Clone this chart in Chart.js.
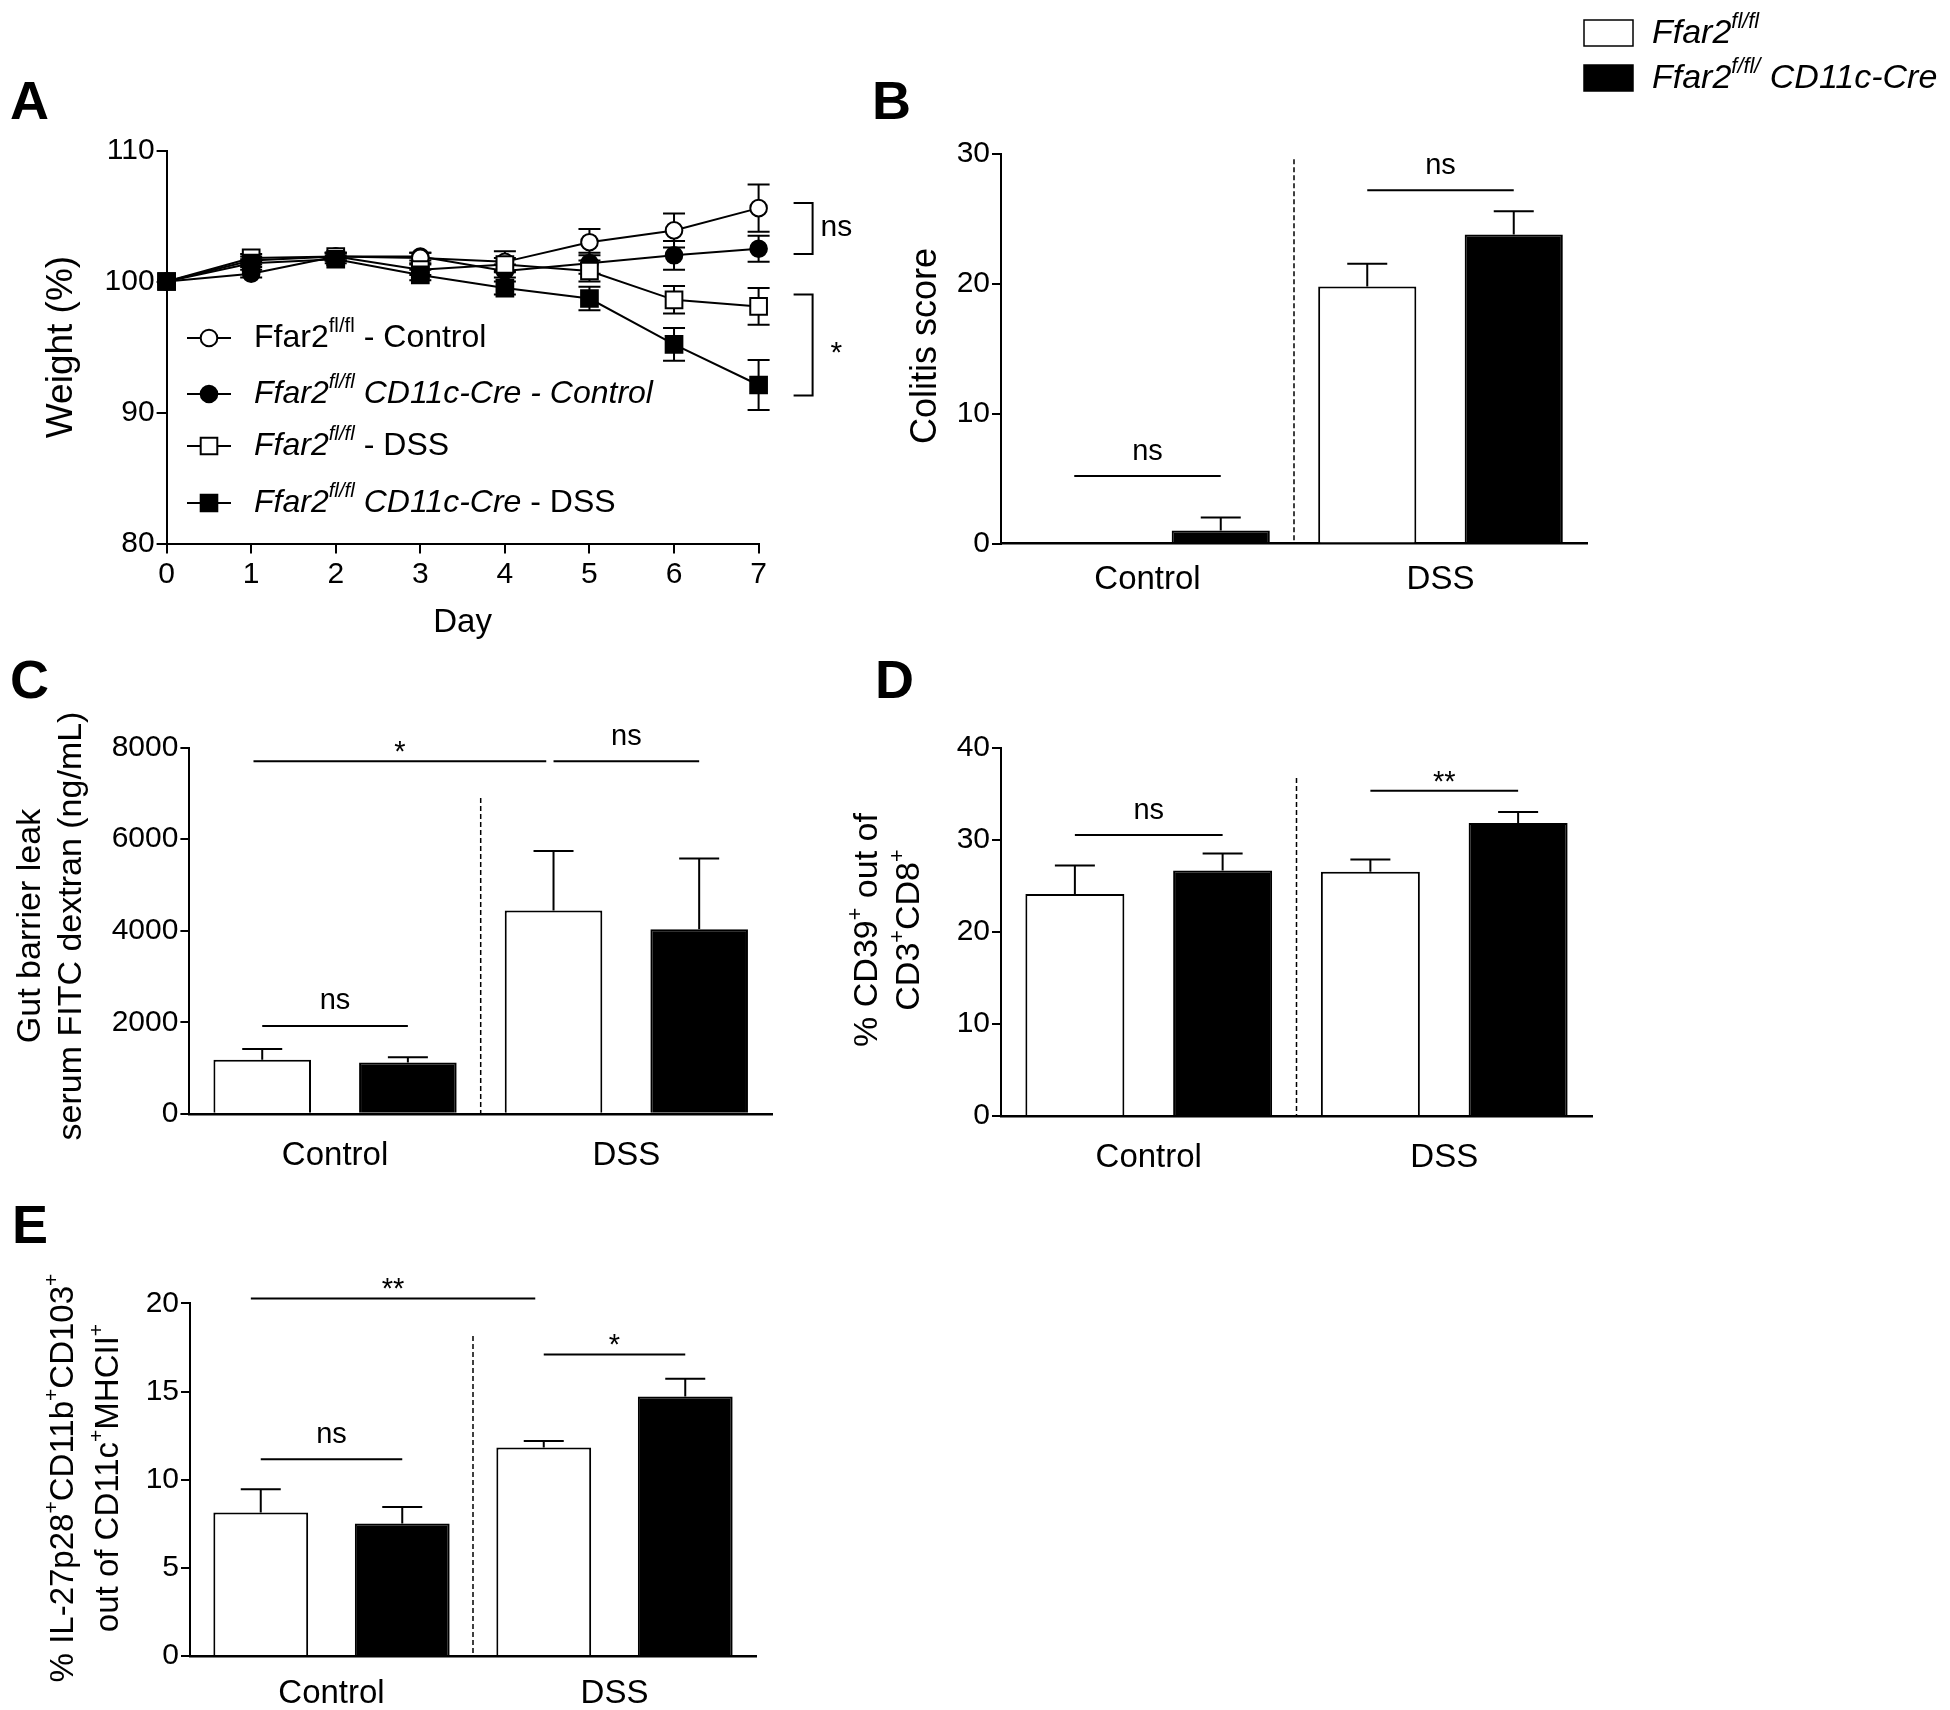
<!DOCTYPE html>
<html>
<head>
<meta charset="utf-8">
<script src="https://cdn.jsdelivr.net/npm/chart.js@4.4.1/dist/chart.umd.min.js"></script>
<style>
  body { margin: 0; background: #fff; }
  #fig { position: relative; width: 1950px; height: 1710px; background: #fff; overflow: hidden; }
  #fig canvas { position: absolute; }
</style>
</head>
<body>
<div id="fig">
  <canvas id="chartA" width="900" height="660" style="left:0;top:0"></canvas>
  <canvas id="chartB" width="1090" height="640" style="left:860px;top:0"></canvas>
  <canvas id="chartC" width="840" height="540" style="left:0;top:640px"></canvas>
  <canvas id="chartD" width="860" height="540" style="left:840px;top:640px"></canvas>
  <canvas id="chartE" width="840" height="530" style="left:0;top:1180px"></canvas>
</div>
<script>
'use strict';

const FONT = "'Liberation Sans', Arial, Helvetica, sans-serif";
Chart.defaults.font.family = FONT;
Chart.defaults.color = '#000';

// ---- panel A : weight (%) over days
const days = [0, 1, 2, 3, 4, 5, 6, 7];
const flControl = [100, 101.6, 101.9, 101.8, 101.5, 103.0, 103.9, 105.6];
const flControlErr = [0, 0.3, 0.3, 0.4, 0.8, 1.0, 1.3, 1.8];
const creControl = [100, 100.6, 101.9, 101.9, 100.8, 101.4, 102.0, 102.5];
const creControlErr = [0, 0.3, 0.3, 0.3, 0.5, 0.8, 1.1, 1.0];
const flDss = [100, 101.8, 101.9, 100.9, 101.3, 100.8, 98.6, 98.1];
const flDssErr = [0, 0.3, 0.3, 0.4, 0.5, 0.8, 1.05, 1.4];
const creDss = [100, 101.4, 101.7, 100.5, 99.5, 98.7, 95.2, 92.1];
const creDssErr = [0, 0.3, 0.3, 0.4, 0.5, 0.9, 1.25, 1.9];
const weightTicks = [80, 90, 100, 110];
// brackets at day 7: [low, high, text]
const weightSig = [[102.1, 106.0, 'ns'], [91.3, 99.0, '*']];

// legend names (rich text parts: [text, style] i=italic s=superscript)
const namesA = [
  [['Ffar2', ''], ['fl/fl', 's'], [' - Control', '']],
  [['Ffar2', 'i'], ['fl/fl', 'si'], [' CD11c-Cre - Control', 'i']],
  [['Ffar2', 'i'], ['fl/fl', 'si'], [' - DSS', '']],
  [['Ffar2', 'i'], ['fl/fl', 'si'], [' CD11c-Cre', 'i'], [' - DSS', '']]
];
const namesBar = [
  [['Ffar2', 'i'], ['fl/fl', 'si']],
  [['Ffar2', 'i'], ['f/fl/', 'si'], [' CD11c-Cre', 'i']]
];

// ---- bar panels
const groups = ['Control', 'DSS'];

// B colitis score
const colitisFl = [0, 19.8];
const colitisFlErr = [0, 1.75];
const colitisCre = [1.0, 23.8];
const colitisCreErr = [1.0, 1.8];
const colitisTicks = [0, 10, 20, 30];
const colitisSig = [[-0.25, 0.25, 5.2, 'ns'], [0.75, 1.25, 27.2, 'ns']];

// C FITC dextran
const fitcFl = [1180, 4440];
const fitcFlErr = [236, 1300];
const fitcCre = [1120, 4030];
const fitcCreErr = [115, 1545];
const fitcTicks = [0, 2000, 4000, 6000, 8000];
const fitcSig = [[-0.28, 0.725, 7700, '*'], [0.75, 1.25, 7700, 'ns'], [-0.25, 0.25, 1920, 'ns']];

// D CD39+
const cd39Fl = [24.1, 26.5];
const cd39FlErr = [3.1, 1.35];
const cd39Cre = [26.65, 31.8];
const cd39CreErr = [1.85, 1.2];
const cd39Ticks = [0, 10, 20, 30, 40];
const cd39Sig = [[-0.25, 0.25, 30.5, 'ns'], [0.75, 1.25, 35.3, '**']];

// E IL-27p28+
const il27Fl = [8.14, 11.82];
const il27FlErr = [1.32, 0.38];
const il27Cre = [7.52, 14.72];
const il27CreErr = [0.93, 1.0];
const il27Ticks = [0, 5, 10, 15, 20];
const il27Sig = [[-0.285, 0.72, 20.28, '**'], [0.75, 1.25, 17.1, '*'], [-0.25, 0.25, 11.16, 'ns']];


// draw text with italic / superscript parts
function drawRich(ctx, parts, x, y, size, align) {
  let w = 0;
  const segs = parts.map(([t, st]) => {
    const sup = st.includes('s');
    const sz = sup ? size * 0.64 : size;
    const f = (st.includes('i') ? 'italic ' : '') + (st.includes('b') ? 'bold ' : '') + sz + 'px ' + FONT;
    ctx.font = f;
    const tw = ctx.measureText(t).width;
    w += tw;
    return { t, f, tw, up: sup ? size * 0.36 : 0 };
  });
  let cx = align === 'center' ? x - w / 2 : (align === 'right' ? x - w : x);
  ctx.textAlign = 'left';
  ctx.textBaseline = 'middle';
  ctx.fillStyle = '#000';
  segs.forEach(s => {
    ctx.font = s.f;
    ctx.fillText(s.t, cx, y - s.up);
    cx += s.tw;
  });
}

function drawRotated(ctx, parts, x, y, size) {
  ctx.save();
  ctx.translate(x, y);
  ctx.rotate(-Math.PI / 2);
  drawRich(ctx, parts, 0, 0, size, 'center');
  ctx.restore();
}

function drawLetter(ctx, letter, x, y) {
  ctx.font = 'bold 54px ' + FONT;
  ctx.textAlign = 'left';
  ctx.textBaseline = 'alphabetic';
  ctx.fillStyle = '#000';
  ctx.fillText(letter, x, y);
}

function sigText(ctx, text, x, lineY, size) {
  ctx.font = size + 'px ' + FONT;
  ctx.textAlign = 'center';
  ctx.textBaseline = 'alphabetic';
  ctx.fillStyle = '#000';
  // asterisks sit high in the em box
  const base = text.includes('*') ? lineY - 17 + size * 0.58 : lineY - 24 + size * 0.26;
  ctx.fillText(text, x, base);
}

function marker(ctx, style, fill, x, y) {
  ctx.beginPath();
  if (style === 'circle') {
    ctx.arc(x, y, 8.3, 0, Math.PI * 2);
  } else {
    ctx.rect(x - 8.3, y - 8.3, 16.6, 16.6);
  }
  ctx.fillStyle = fill;
  ctx.fill();
  ctx.lineWidth = 2;
  ctx.strokeStyle = '#000';
  ctx.stroke();
}


// ---------------- panel A
const styleA = [['circle', '#fff'], ['circle', '#000'], ['rect', '#fff'], ['rect', '#000']];
const valsA = [flControl, creControl, flDss, creDss];
const errsA = [flControlErr, creControlErr, flDssErr, creDssErr];

const panelA = {
  id: 'panelA',
  beforeDatasetsDraw(chart) {
    const ctx = chart.ctx, y = chart.scales.y;
    ctx.save();
    ctx.strokeStyle = '#000';
    ctx.lineWidth = 2;
    chart.data.datasets.forEach((ds, di) => {
      chart.getDatasetMeta(di).data.forEach((pt, i) => {
        const e = ds.err[i];
        if (!e) return;
        const v = ds.data[i].y;
        const yt = y.getPixelForValue(v + e), yb = y.getPixelForValue(v - e);
        ctx.beginPath();
        ctx.moveTo(pt.x, yt); ctx.lineTo(pt.x, yb);
        ctx.moveTo(pt.x - 11, yt); ctx.lineTo(pt.x + 11, yt);
        ctx.moveTo(pt.x - 11, yb); ctx.lineTo(pt.x + 11, yb);
        ctx.stroke();
      });
    });
    ctx.restore();
  },
  afterDraw(chart) {
    const ctx = chart.ctx, y = chart.scales.y, area = chart.chartArea;
    ctx.save();
    drawLetter(ctx, 'A', 10, 119);
    drawRotated(ctx, [['Weight (%)', '']], 62, 347, 37);
    ctx.font = '33px ' + FONT;
    ctx.textAlign = 'center';
    ctx.textBaseline = 'middle';
    ctx.fillText('Day', (area.left + area.right) / 2, 623);

    // legend
    const rows = [338, 394, 446, 503];
    namesA.forEach((parts, i) => {
      ctx.beginPath();
      ctx.moveTo(187, rows[i]); ctx.lineTo(231, rows[i]);
      ctx.strokeStyle = '#000'; ctx.lineWidth = 2;
      ctx.stroke();
      marker(ctx, styleA[i][0], styleA[i][1], 209, rows[i]);
      drawRich(ctx, parts, 254, rows[i], 32, 'left');
    });

    // brackets
    weightSig.forEach(([lo, hi, txt]) => {
      const y1 = y.getPixelForValue(hi), y2 = y.getPixelForValue(lo);
      const bx = area.right + 54, tx = area.right + 35;
      ctx.beginPath();
      ctx.moveTo(tx, y1); ctx.lineTo(bx, y1); ctx.lineTo(bx, y2); ctx.lineTo(tx, y2);
      ctx.strokeStyle = '#000'; ctx.lineWidth = 2;
      ctx.stroke();
      ctx.font = '30px ' + FONT;
      ctx.textAlign = 'left';
      ctx.textBaseline = 'alphabetic';
      if (txt === '*') {
        ctx.fillText(txt, bx + 18, (y1 + y2) / 2 + 30 * 0.58);
      } else {
        ctx.fillText(txt, bx + 8, (y1 + y2) / 2 + 30 * 0.26);
      }
    });
    ctx.restore();
  }
};

new Chart(document.getElementById('chartA'), {
  type: 'line',
  data: {
    datasets: valsA.map((vals, i) => ({
      data: days.map((d, k) => ({ x: d, y: vals[k] })),
      err: errsA[i],
      borderColor: '#000',
      borderWidth: 2,
      pointStyle: styleA[i][0],
      pointRadius: styleA[i][0] === 'circle' ? 8.3 : 11.8,
      pointBackgroundColor: styleA[i][1],
      pointBorderColor: '#000',
      pointBorderWidth: 2,
      tension: 0,
      clip: false,
      order: [2, 3, 1, 0][i]
    }))
  },
  options: {
    responsive: false,
    animation: false,
    layout: { padding: { left: 96.6, right: 141.4, top: 150.5, bottom: 56.5 } },
    plugins: { legend: { display: false }, tooltip: { enabled: false } },
    scales: {
      x: {
        type: 'linear', min: 0, max: 7,
        afterBuildTicks: s => { s.ticks = days.map(v => ({ value: v })); },
        grid: { drawOnChartArea: false, drawTicks: true, tickLength: 10, color: '#000', lineWidth: 2 },
        border: { display: true, color: '#000', width: 2 },
        ticks: { color: '#000', font: { size: 30 }, padding: 3, callback: v => String(v) },
        afterFit: s => { s.height = 60; }
      },
      y: {
        min: 80, max: 110,
        afterBuildTicks: s => { s.ticks = weightTicks.map(v => ({ value: v })); },
        grid: { drawOnChartArea: false, drawTicks: true, tickLength: 10, color: '#000', lineWidth: 2 },
        border: { display: true, color: '#000', width: 2 },
        ticks: { color: '#000', font: { size: 30 }, padding: 2, callback: v => String(v) },
        afterFit: s => { s.width = 70; }
      }
    }
  },
  plugins: [panelA]
});


// ---------------- bar panels
function barPlugin(spec) {
  return {
    id: 'bars' + spec.letter,
    afterDatasetsDraw(chart) {
      const ctx = chart.ctx, x = chart.scales.x, y = chart.scales.y;
      ctx.save();
      ctx.strokeStyle = '#000';
      ctx.lineWidth = 2;
      // upper error bars
      chart.data.datasets.forEach((ds, di) => {
        chart.getDatasetMeta(di).data.forEach((bar, i) => {
          const e = ds.err[i];
          if (!e) return;
          const top = y.getPixelForValue(ds.data[i] + e);
          ctx.beginPath();
          ctx.moveTo(bar.x, bar.y); ctx.lineTo(bar.x, top);
          ctx.moveTo(bar.x - 20, top); ctx.lineTo(bar.x + 20, top);
          ctx.stroke();
        });
      });
      // dashed divider between groups
      ctx.beginPath();
      ctx.setLineDash([5, 3]);
      ctx.lineWidth = 1.5;
      const dx = x.getPixelForValue(0.5);
      ctx.moveTo(dx, y.getPixelForValue(spec.dashTop));
      ctx.lineTo(dx, y.getPixelForValue(0));
      ctx.stroke();
      ctx.setLineDash([]);
      // significance lines
      ctx.lineWidth = 2;
      spec.sig.forEach(([a, b, v, txt]) => {
        const ly = y.getPixelForValue(v);
        const x1 = x.getPixelForValue(a), x2 = x.getPixelForValue(b);
        ctx.beginPath();
        ctx.moveTo(x1, ly); ctx.lineTo(x2, ly);
        ctx.stroke();
        sigText(ctx, txt, (x1 + x2) / 2, ly, 29);
      });
      ctx.restore();
    },
    afterDraw(chart) {
      const ctx = chart.ctx;
      ctx.save();
      drawLetter(ctx, spec.letter, spec.letterPos[0], spec.letterPos[1]);
      spec.titles.forEach(t => drawRotated(ctx, t.parts, t.x, spec.titleY, spec.titleSize));
      if (spec.legend) {
        namesBar.forEach((parts, i) => {
          const by = [20, 65][i];
          ctx.fillStyle = i ? '#000' : '#fff';
          ctx.fillRect(724, by, 49, 26);
          ctx.strokeStyle = '#000';
          ctx.lineWidth = 1.5;
          ctx.strokeRect(724, by, 49, 26);
          drawRich(ctx, parts, 792, by + 14, 34, 'left');
        });
      }
      ctx.restore();
    }
  };
}

function barChart(id, spec) {
  const top = spec.ticks[spec.ticks.length - 1];
  new Chart(document.getElementById(id), {
    type: 'bar',
    data: {
      labels: groups,
      datasets: [
        { data: spec.fl, err: spec.flErr, backgroundColor: '#fff', borderColor: '#000', borderWidth: 2,
          categoryPercentage: 1, barPercentage: 0.67 },
        { data: spec.cre, err: spec.creErr, backgroundColor: '#000', borderColor: '#000', borderWidth: 2,
          categoryPercentage: 1, barPercentage: 0.67 }
      ]
    },
    options: {
      responsive: false,
      animation: false,
      layout: { padding: spec.pad },
      plugins: { legend: { display: false }, tooltip: { enabled: false } },
      scales: {
        x: {
          offset: true,
          grid: { display: false, drawTicks: false },
          border: { display: true, color: '#000', width: 2.5 },
          ticks: { color: '#000', font: { size: 33 }, padding: spec.labelPad },
          afterFit: s => { s.height = 52; }
        },
        y: {
          min: 0, max: top,
          afterBuildTicks: s => { s.ticks = spec.ticks.map(v => ({ value: v })); },
          grid: { drawOnChartArea: false, drawTicks: true, tickLength: 9, color: '#000', lineWidth: 2 },
          border: { display: true, color: '#000', width: 2 },
          ticks: { color: '#000', font: { size: 30 }, padding: 2, callback: v => String(v) },
          afterFit: s => { s.width = 90; }
        }
      }
    },
    plugins: [barPlugin(spec)]
  });
}

barChart('chartB', {
  letter: 'B', letterPos: [12, 119],
  fl: colitisFl, flErr: colitisFlErr, cre: colitisCre, creErr: colitisCreErr,
  ticks: colitisTicks, sig: colitisSig, dashTop: 29.6,
  pad: { left: 51, right: 363, top: 154, bottom: 44.5 }, labelPad: 17,
  titles: [{ parts: [['Colitis score', '']], x: 66 }], titleY: 346, titleSize: 36,
  legend: true
});

barChart('chartC', {
  letter: 'C', letterPos: [10, 58],
  fl: fitcFl, flErr: fitcFlErr, cre: fitcCre, creErr: fitcCreErr,
  ticks: fitcTicks, sig: fitcSig, dashTop: 6900,
  pad: { left: 99.4, right: 68, top: 107.6, bottom: 14.2 }, labelPad: 22,
  titles: [
    { parts: [['Gut barrier leak', '']], x: 31 },
    { parts: [['serum FITC dextran (ng/mL)', '']], x: 72 }
  ], titleY: 286, titleSize: 34
});

barChart('chartD', {
  letter: 'D', letterPos: [35, 58],
  fl: cd39Fl, flErr: cd39FlErr, cre: cd39Cre, creErr: cd39CreErr,
  ticks: cd39Ticks, sig: cd39Sig, dashTop: 36.7,
  pad: { left: 71, right: 108, top: 107.5, bottom: 12 }, labelPad: 22,
  titles: [
    { parts: [['% CD39', ''], ['+', 's'], [' out of', '']], x: 28 },
    { parts: [['CD3', ''], ['+', 's'], ['CD8', ''], ['+', 's']], x: 70 }
  ], titleY: 290, titleSize: 34
});

barChart('chartE', {
  letter: 'E', letterPos: [12, 63],
  fl: il27Fl, flErr: il27FlErr, cre: il27Cre, creErr: il27CreErr,
  ticks: il27Ticks, sig: il27Sig, dashTop: 18.15,
  pad: { left: 100, right: 84, top: 123.4, bottom: 2 }, labelPad: 18,
  titles: [
    { parts: [['% IL-27p28', ''], ['+', 's'], ['CD11b', ''], ['+', 's'], ['CD103', ''], ['+', 's']], x: 64 },
    { parts: [['out of CD11c', ''], ['+', 's'], ['MHCII', ''], ['+', 's']], x: 109 }
  ], titleY: 298, titleSize: 33
});
</script>
</body>
</html>
